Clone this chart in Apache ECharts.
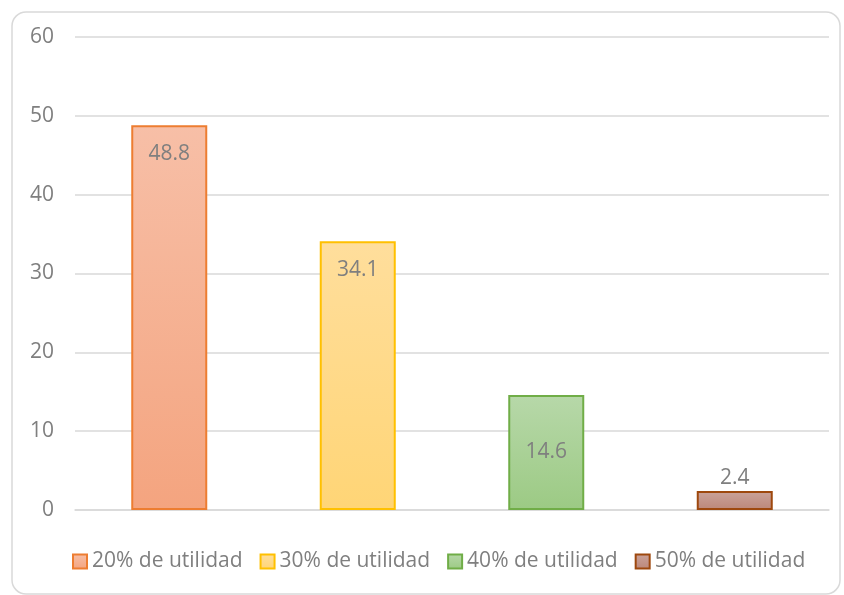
<!DOCTYPE html>
<html>
<head>
<meta charset="utf-8">
<script src="https://cdn.jsdelivr.net/npm/echarts@6/dist/echarts.min.js"></script>
<style>html,body{margin:0;padding:0;background:#fff}#c{width:844px;height:595px}</style>
</head>
<body>
<div id="c"></div>
<script>
const categories = ['20% de utilidad', '30% de utilidad', '40% de utilidad', '50% de utilidad'];
const values = [48.8, 34.1, 14.6, 2.4];
const yTicks = [0, 10, 20, 30, 40, 50, 60];

const fills = [
  ['#F7BFA7', '#F4A47F'],
  ['#FFDE9C', '#FFD576'],
  ['#B7D8A9', '#9CCA84'],
  ['#CAA39B', '#BC8779']
];
const borders = ['#ED7D31', '#FFC000', '#70AD47', '#9E480E'];
const labelPos = [
  {position: 'insideTop', distance: 18},
  {position: 'insideTop', distance: 18},
  {position: 'inside', distance: 0},
  {position: 'top', distance: 3}
];
const FONT = '"Open Sans", sans-serif';

const series = categories.map((name, i) => {
  const data = categories.map((c, j) => j === i ? values[i] : '-');
  return {
    name: name,
    type: 'bar',
    data: data,
    barWidth: 76,
    barGap: '-100%',
    itemStyle: {
      color: new echarts.graphic.LinearGradient(0, 0, 0, 1, [
        {offset: 0, color: fills[i][0]},
        {offset: 1, color: fills[i][1]}
      ]),
      borderColor: borders[i],
      borderWidth: 2
    },
    label: {
      show: true,
      position: labelPos[i].position,
      distance: labelPos[i].distance,
      color: '#7F7F7F',
      fontFamily: FONT,
      fontSize: 21,
      formatter: p => p.value.toFixed(1)
    },
    emphasis: {disabled: true}
  };
});

const chart = echarts.init(document.getElementById('c'), null, {renderer: 'canvas'});
chart.setOption({
  animation: false,
  backgroundColor: '#fff',
  graphic: [{
    type: 'rect',
    shape: {x: 12, y: 12, width: 828, height: 582, r: 14},
    style: {fill: 'none', stroke: '#D9D9D9', lineWidth: 1.5},
    silent: true
  }],
  grid: {left: 75, right: 15, top: 37, bottom: 85},
  legend: {
    left: 72,
    top: 551,
    padding: 0,
    itemWidth: 14,
    itemHeight: 14,
    itemGap: 17,
    icon: 'rect',
    textStyle: {color: '#7F7F7F', fontFamily: FONT, fontSize: 21},
    data: categories.map((c, i) => ({name: c}))
  },
  xAxis: {
    type: 'category',
    data: categories,
    axisLine: {show: true, lineStyle: {color: '#D9D9D9', width: 1.5}},
    axisTick: {show: false},
    axisLabel: {show: false}
  },
  yAxis: {
    type: 'value',
    min: yTicks[0],
    max: yTicks[yTicks.length - 1],
    interval: 10,
    axisLine: {show: false},
    axisTick: {show: false},
    axisLabel: {color: '#7F7F7F', fontFamily: FONT, fontSize: 21, margin: 21},
    splitLine: {lineStyle: {color: '#D9D9D9', width: 1.5}}
  },
  series: series
});
</script>
</body>
</html>
